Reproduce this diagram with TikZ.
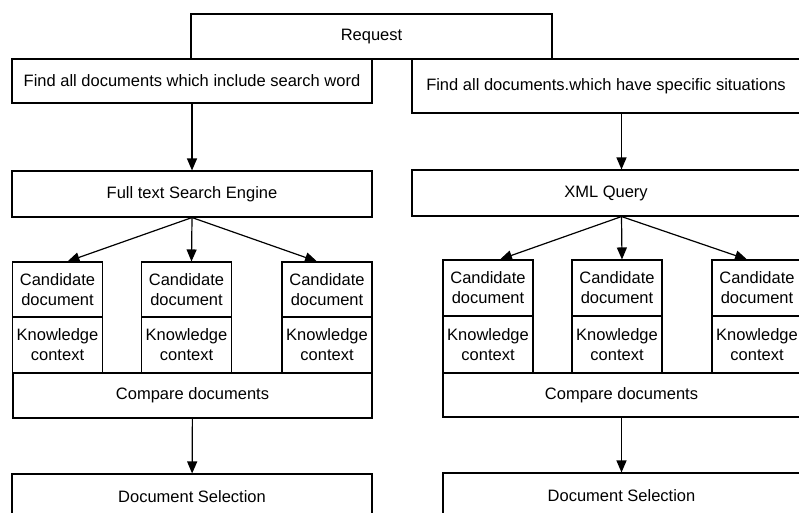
\documentclass[tikz,border=0pt]{standalone}
\usepackage{fontspec}
\setmainfont{Liberation Sans}
\usetikzlibrary{arrows.meta,calc}

\tikzset{
	box/.style={draw, line width=1.1pt, inner sep=0pt, align=center, font=\fontsize{16.5}{20}\selectfont},
	wide/.style={box, minimum height=45pt},
	half/.style={box, minimum width=90pt, minimum height=56pt},
	link/.style={line width=1.2pt, -{Triangle[length=12pt,width=10pt]}}
}

\begin{document}
\begin{tikzpicture}[x=1pt,y=-1pt]
			%%%%% START %%%%%
			\useasboundingbox (0,0) rectangle (799,512);
			\clip (0,0) rectangle (799,512);
			
			\node[wide, minimum width=361pt] (request) at (371.5,36.5) {Request};
			
			% left branch: full text search
			\node[wide, minimum width=360pt, minimum height=44pt] (findL) at (192,81) {Find all documents which include search word};
			\node[wide, minimum width=360pt, minimum height=46pt] (engL) at (192,194) {Full text Search Engine};
			
			\node[half, minimum height=55pt] (candL1) at (57.5,289.5) {Candidate\\document};
			\node[half] (knowL1) at (57.5,345) {Knowledge\\context};
			\node[half, minimum height=55pt] (candL2) at (186.5,289.5) {Candidate\\document};
			\node[half] (knowL2) at (186.5,345) {Knowledge\\context};
			\node[half, minimum height=55pt] (candL3) at (327,289.5) {Candidate\\document};
			\node[half] (knowL3) at (327,345) {Knowledge\\context};
			
			\node[wide, minimum width=359pt] (cmpL) at (192.5,395.5) {Compare documents};
			\node[wide, minimum width=360pt, minimum height=46pt] (selL) at (192,497) {Document Selection};
			
			% right branch: XML query
			\node[wide, minimum width=388pt, minimum height=54pt] (findR) at (606,86) {Find all documents.which have specific situations};
			\node[wide, minimum width=388pt, minimum height=46pt] (engR) at (606,193) {XML Query};
			
			\node[half] (candR1) at (488,288) {Candidate\\document};
			\node[half, minimum height=57pt] (knowR1) at (488,344.5) {Knowledge\\context};
			\node[half] (candR2) at (617,288) {Candidate\\document};
			\node[half, minimum height=57pt] (knowR2) at (617,344.5) {Knowledge\\context};
			\node[half] (candR3) at (757,288) {Candidate\\document};
			\node[half, minimum height=57pt] (knowR3) at (757,344.5) {Knowledge\\context};
			
			\node[wide, minimum width=357pt, minimum height=44pt] (cmpR) at (621.5,395) {Compare documents};
			\node[wide, minimum width=357pt, minimum height=46pt] (selR) at (621.5,496) {Document Selection};
			
			% arrows
			\draw[link] (findL) -- (engL);
			\draw[link] (engL.south) -- ([xshift=10pt]candL1.north);
			\draw[link] (engL.south) -- ([xshift=5pt]candL2.north);
			\draw[link] (engL.south) -- ([xshift=-10pt]candL3.north);
			\draw[link] (cmpL) -- (selL);
			
			\draw[link] (findR.south -| cmpR.north) -- (engR.north -| cmpR.north);
			\draw[link] (engR.south -| cmpR.north) -- ([xshift=12pt]candR1.north);
			\draw[link] (engR.south -| cmpR.north) -- ([xshift=5pt]candR2.north);
			\draw[link] (engR.south -| cmpR.north) -- ([xshift=-10pt]candR3.north);
			\draw[link] (cmpR) -- (selR);
			
			%%%%% END %%%%%
\end{tikzpicture}
\end{document}
